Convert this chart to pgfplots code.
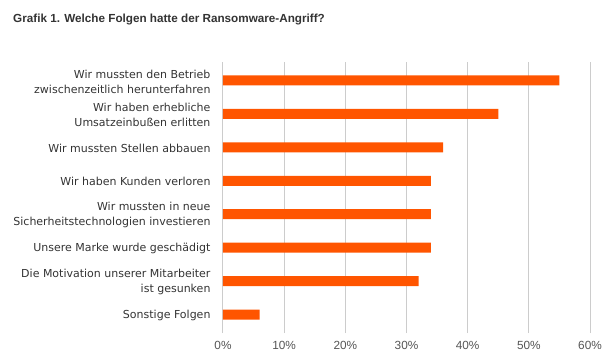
\documentclass[border=0pt]{standalone}
\usepackage{pgfplots}
\pgfplotsset{compat=1.18}
\usepackage{fontspec}
\setmainfont{DejaVu Sans}
\newfontfamily\arialfont{Liberation Sans}
\definecolor{barorange}{HTML}{FF5500}
\definecolor{gridgray}{HTML}{CCCCCC}
\definecolor{txt}{HTML}{333333}
\definecolor{ticktxt}{HTML}{555555}
\begin{document}
\begin{tikzpicture}
\path (0pt,0pt) rectangle (611pt,-362pt);
\node[anchor=base west,font=\arialfont\fontsize{11.7}{14}\selectfont\bfseries,text=txt,inner sep=0] at (13pt,-22pt) {Grafik 1. Welche Folgen hatte der Ransomware-Angriff?};
\begin{axis}[
  at={(223pt,-333pt)}, anchor=south west,
  scale only axis, width=367pt, height=271pt,
  xbar, bar width=10pt,
  xmin=0, xmax=60, ymin=-0.55, ymax=7.55,
  xtick={0,10,...,60},
  xticklabel={\pgfmathprintnumber{\tick}\%},
  /pgf/number format/assume math mode=true,
  ytick={0,...,7},
  yticklabels={
    {Sonstige Folgen},
    {Die Motivation unserer Mitarbeiter\\ist gesunken},
    {Unsere Marke wurde geschädigt},
    {Wir mussten in neue\\Sicherheitstechnologien investieren},
    {Wir haben Kunden verloren},
    {Wir mussten Stellen abbauen},
    {Wir haben erhebliche\\Umsatzeinbußen erlitten},
    {Wir mussten den Betrieb\\zwischenzeitlich herunterfahren}},
  yticklabel style={align=right, font=\fontsize{11}{15}\selectfont, text=txt, xshift=-9pt, yshift=-1pt},
  xticklabel style={font=\arialfont\fontsize{11.8}{13}\selectfont, text=ticktxt, yshift=-5pt},
  major tick length=0pt,
  axis line style={draw=none},
  xmajorgrids, grid style={gridgray, line width=1pt},
  clip=false,
]
\addplot[fill=barorange, draw=none] coordinates {
  (6,0) (32,1) (34,2) (34,3) (34,4) (36,5) (45,6) (55,7)};
\end{axis}
\end{tikzpicture}
\end{document}
